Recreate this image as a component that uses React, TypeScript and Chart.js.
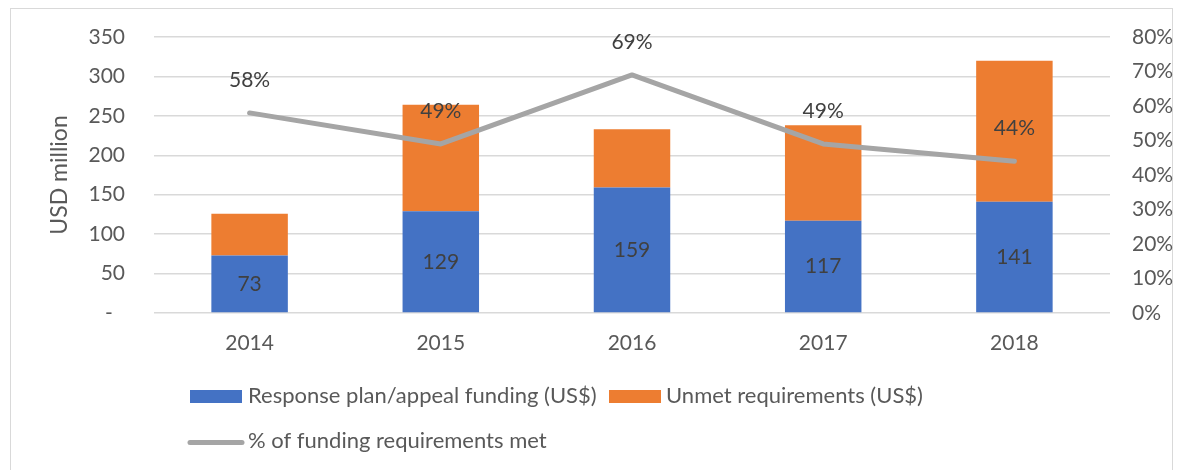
import React, { useEffect, useRef } from "react";
import { Chart, registerables } from "chart.js";

Chart.register(...registerables);

const years = ["2014", "2015", "2016", "2017", "2018"];
const funding = [73, 129, 159, 117, 141];
const unmet = [53, 135, 74, 121, 179];
const pctMet = [0.58, 0.49, 0.69, 0.49, 0.44];
const pctLabels = ["58%", "49%", "69%", "49%", "44%"];

const FONT = "Lato, 'Open Sans', sans-serif";
const TXT = "#595959";
const LBL = "#404040";
const BLUE = "#4472C4";
const ORANGE = "#ED7D31";
const GRAY = "#A5A5A5";

const decorPlugin = {
  id: "decor",
  beforeDraw(chart: any) {
    const ctx = chart.ctx;
    ctx.save();
    ctx.fillStyle = "#ffffff";
    ctx.fillRect(0, 0, chart.width, chart.height);
    ctx.strokeStyle = "#d9d9d9";
    ctx.lineWidth = 1;
    ctx.strokeRect(2.5, 0.5, 1162, 480);
    ctx.restore();
  },
  afterDatasetsDraw(chart: any) {
    const ctx = chart.ctx;
    ctx.save();
    ctx.font = `21px ${FONT}`;
    ctx.fillStyle = LBL;
    ctx.textAlign = "center";
    ctx.textBaseline = "middle";
    const barMeta = chart.getDatasetMeta(0);
    barMeta.data.forEach((bar: any, i: number) => {
      const cy = (bar.y + bar.base) / 2;
      ctx.fillText(String(funding[i]), bar.x, cy);
    });
    const lineMeta = chart.getDatasetMeta(2);
    lineMeta.data.forEach((pt: any, i: number) => {
      ctx.fillText(pctLabels[i], pt.x, pt.y - 33);
    });
    ctx.restore();
  },
  afterDraw(chart: any) {
    const ctx = chart.ctx;
    ctx.save();
    ctx.font = `22px ${FONT}`;
    ctx.fillStyle = TXT;
    ctx.textAlign = "left";
    ctx.textBaseline = "middle";
    const ds = chart.data.datasets;
    // row 1
    ctx.fillStyle = BLUE;
    ctx.fillRect(182, 382, 52, 13);
    ctx.fillStyle = TXT;
    ctx.fillText(ds[0].label, 240, 388);
    ctx.fillStyle = ORANGE;
    ctx.fillRect(601, 382, 52, 13);
    ctx.fillStyle = TXT;
    ctx.fillText(ds[1].label, 658, 388);
    // row 2
    ctx.strokeStyle = GRAY;
    ctx.lineWidth = 5;
    ctx.lineCap = "round";
    ctx.beginPath();
    ctx.moveTo(182, 434.5);
    ctx.lineTo(234, 434.5);
    ctx.stroke();
    ctx.fillText(ds[2].label, 240, 433);
    // y title
    ctx.save();
    ctx.translate(52, 167);
    ctx.rotate(-Math.PI / 2);
    ctx.textAlign = "center";
    ctx.font = `23px ${FONT}`;
    ctx.fillText("USD million", 0, 0);
    ctx.restore();
    ctx.restore();
  },
};

export default function App() {
  const ref = useRef<HTMLCanvasElement>(null);
  useEffect(() => {
    if (!ref.current) return;
    const chart = new Chart(ref.current, {
      type: "bar",
      data: {
        labels: years,
        datasets: [
          {
            type: "bar",
            label: "Response plan/appeal funding (US$)",
            data: funding,
            backgroundColor: BLUE,
            yAxisID: "y",
            order: 2,
            barPercentage: 0.4,
            categoryPercentage: 1,
          },
          {
            type: "bar",
            label: "Unmet requirements (US$)",
            data: unmet,
            backgroundColor: ORANGE,
            yAxisID: "y",
            order: 2,
            barPercentage: 0.4,
            categoryPercentage: 1,
          },
          {
            type: "line",
            label: "% of funding requirements met",
            data: pctMet,
            borderColor: GRAY,
            backgroundColor: GRAY,
            borderWidth: 5,
            pointRadius: 0,
            borderCapStyle: "round",
            borderJoinStyle: "round",
            yAxisID: "y1",
            order: 0,
          } as any,
        ],
      },
      options: {
        responsive: false,
        animation: false,
        layout: { padding: { top: 29, left: 0, right: 0, bottom: 0 } },
        plugins: {
          legend: { display: false },
          tooltip: { enabled: false },
        },
        scales: {
          x: {
            stacked: true,
            grid: { display: false },
            border: { display: false },
            ticks: { font: { family: FONT, size: 21 }, color: TXT, padding: 10 },
            afterFit: (s: any) => {
              s.height = 157;
              s.paddingLeft = 0;
              s.paddingRight = 0;
            },
          },
          y: {
            stacked: true,
            position: "left",
            min: 0,
            max: 350,
            ticks: {
              stepSize: 50,
              padding: 29,
              font: { family: FONT, size: 21 },
              color: TXT,
              callback: (v: any) => (v === 0 ? "-\u2007" : String(v)),
            },
            grid: { color: "#d9d9d9", lineWidth: 1.5, drawTicks: false },
            border: { display: false },
            afterFit: (s: any) => {
              s.width = 146;
              s.paddingTop = 0;
              s.paddingBottom = 0;
            },
          },
          y1: {
            position: "right",
            min: 0,
            max: 0.8,
            ticks: {
              stepSize: 0.1,
              padding: 22,
              font: { family: FONT, size: 21 },
              color: TXT,
              callback: (v: any) => `${Math.round(v * 100)}%`,
            },
            grid: { display: false, drawTicks: false },
            border: { display: false },
            afterFit: (s: any) => {
              s.width = 64;
              s.paddingTop = 0;
              s.paddingBottom = 0;
            },
          },
        },
      } as any,
      plugins: [decorPlugin],
    });
    return () => chart.destroy();
  }, []);
  return (
    <div style={{ width: 1166, height: 462 }}>
      <canvas ref={ref} width={1166} height={462} style={{ display: "block" }} />
    </div>
  );
}
